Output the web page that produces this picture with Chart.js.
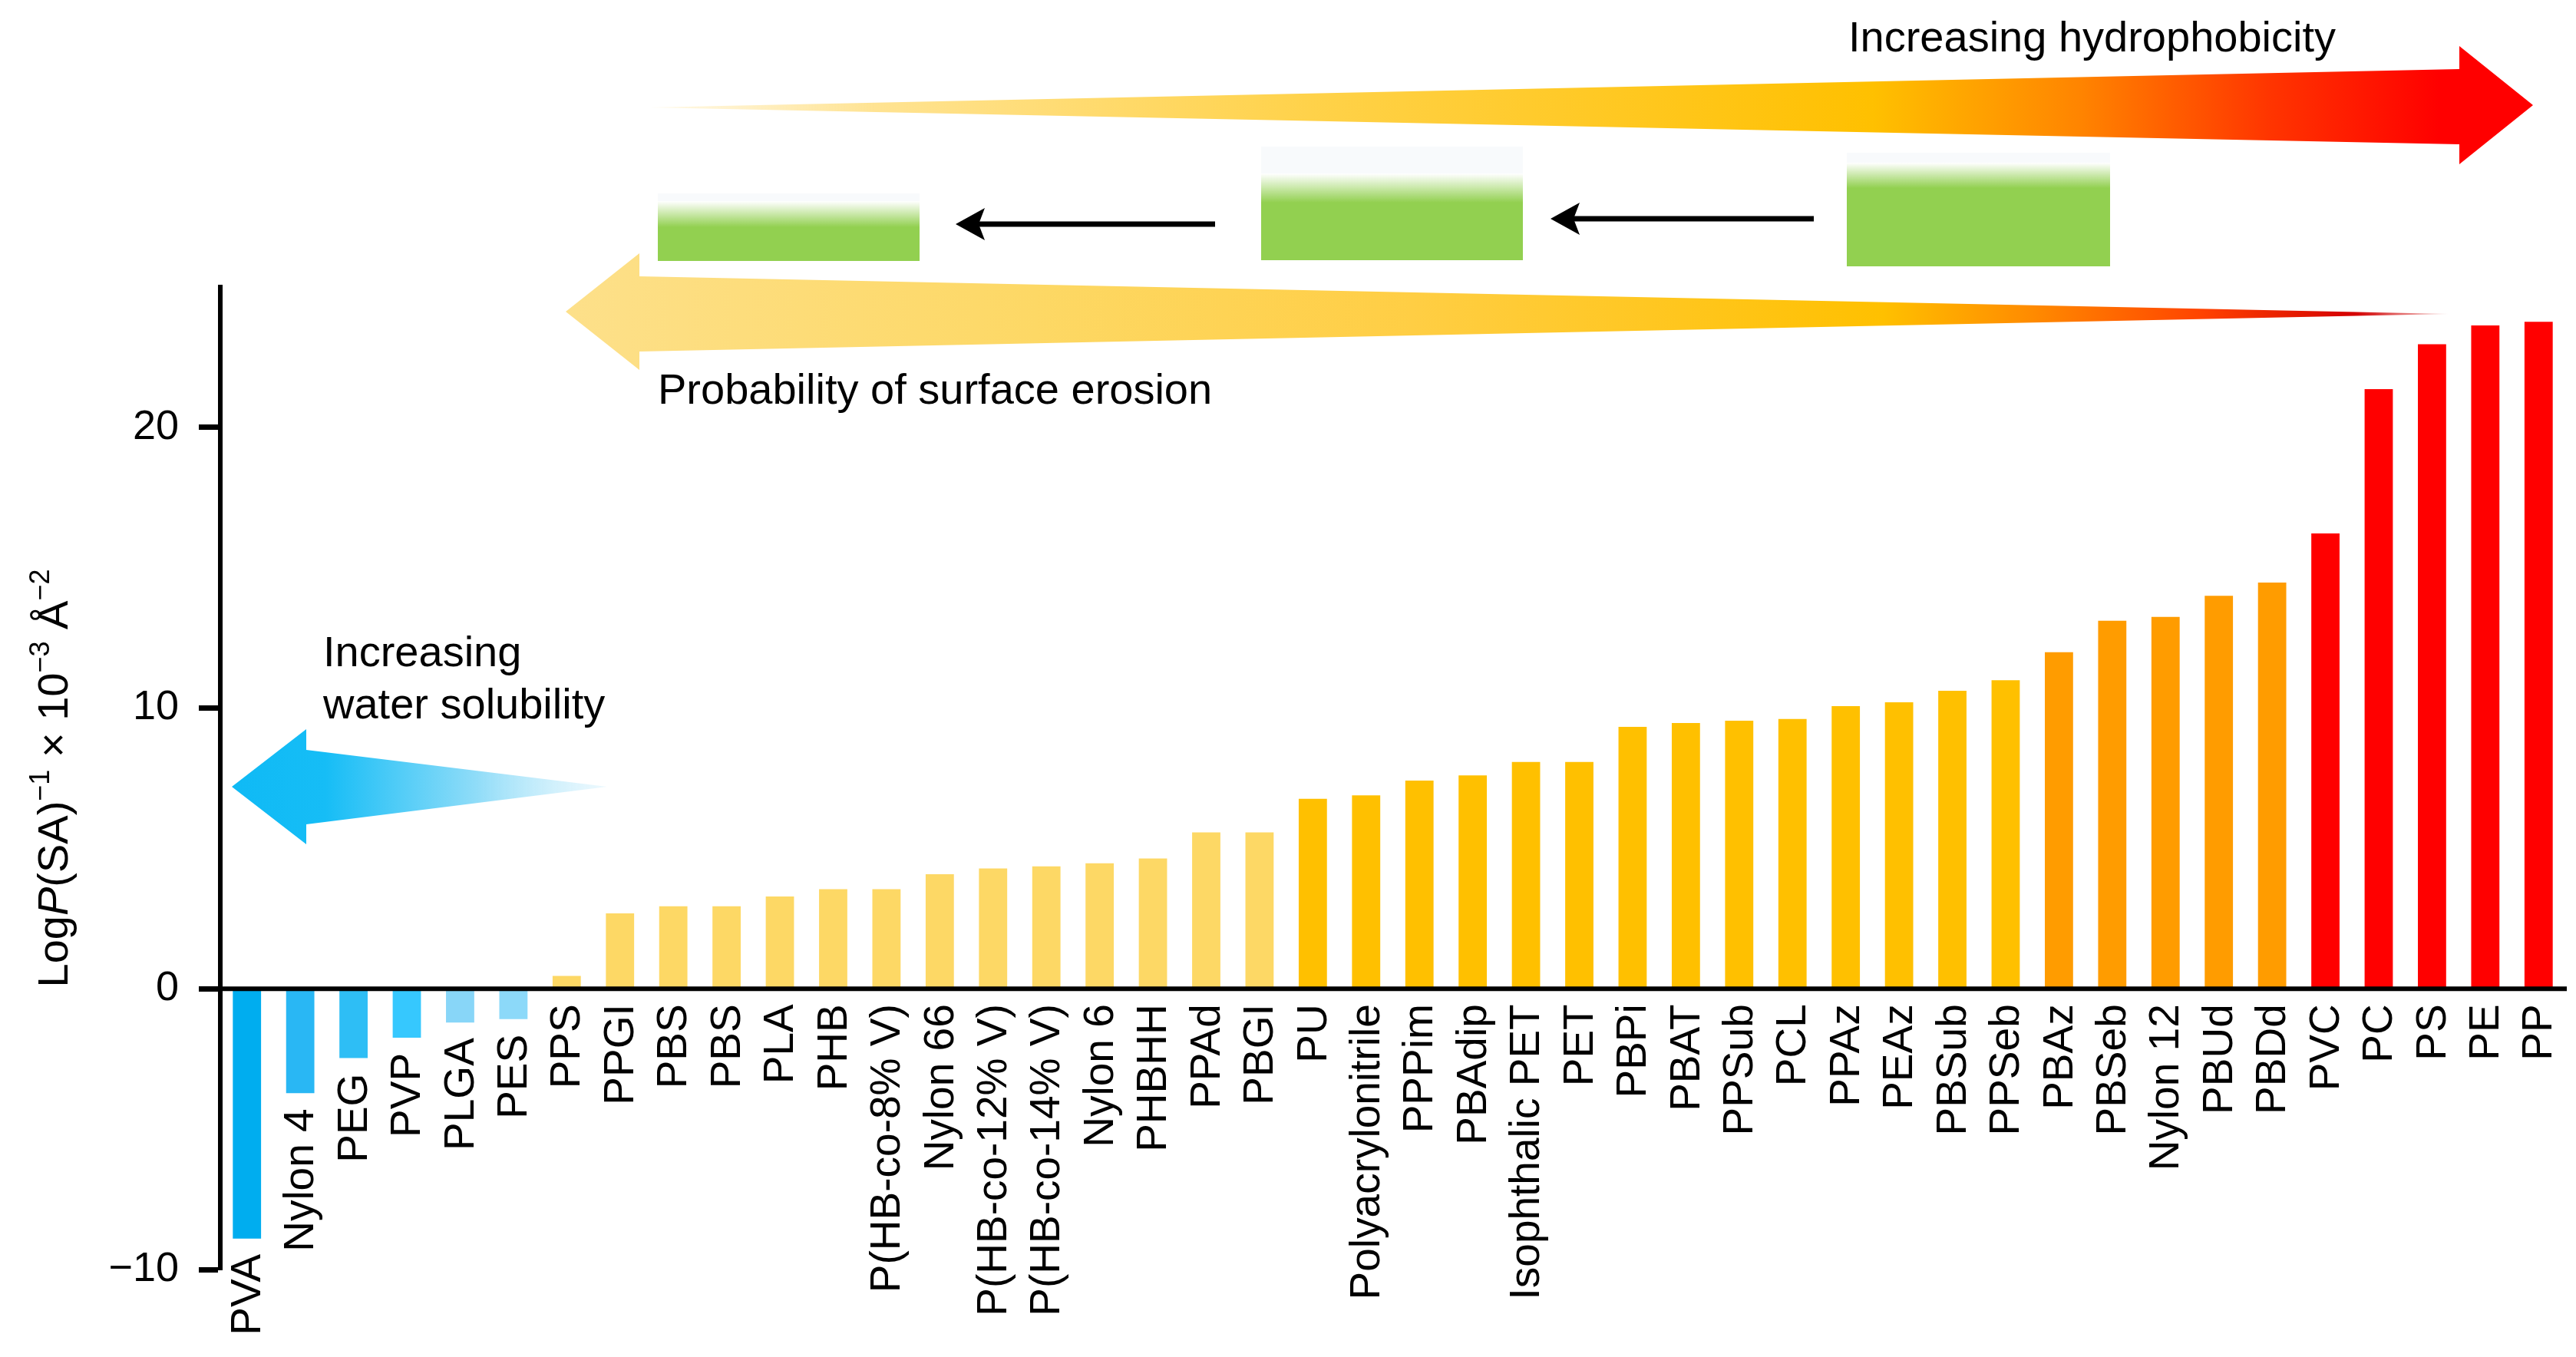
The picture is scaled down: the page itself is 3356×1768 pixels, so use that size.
<!DOCTYPE html>
<html>
<head>
<meta charset="utf-8">
<script src="https://cdn.jsdelivr.net/npm/chart.js@4.4.1/dist/chart.umd.min.js"></script>
<style>
  html, body { margin: 0; padding: 0; background: #fff; }
  #wrap { width: 3356px; height: 1768px; }
</style>
</head>
<body>
<div id="wrap"><canvas id="chart" width="3356" height="1768"></canvas></div>
<script>
// polymers, ordered as in the figure
const polymers = [
    "PVA", "Nylon 4", "PEG", "PVP", "PLGA", "PES", "PPS", "PPGI", "PBS", "PBS",
    "PLA", "PHB", "P(HB-co-8% V)", "Nylon 66", "P(HB-co-12% V)", "P(HB-co-14% V)",
    "Nylon 6", "PHBHH", "PPAd", "PBGI", "PU", "Polyacrylonitrile", "PPPim", "PBAdip",
    "Isophthalic PET", "PET", "PBPi", "PBAT", "PPSub", "PCL", "PPAz", "PEAz", "PBSub",
    "PPSeb", "PBAz", "PBSeb", "Nylon 12", "PBUd", "PBDd", "PVC", "PC", "PS", "PE", "PP"
];

// Log P(SA)^-1 x 10^-3 A^-2
const logPSA = [
    -8.9, -3.72, -2.47, -1.74, -1.2, -1.08, 0.46, 2.69, 2.94, 2.94,
    3.29, 3.55, 3.55, 4.08, 4.29, 4.36,
    4.47, 4.64, 5.57, 5.57, 6.77, 6.89, 7.42, 7.6,
    8.08, 8.08, 9.33, 9.47, 9.55, 9.61, 10.07, 10.21, 10.62,
    10.99, 11.99, 13.11, 13.25, 14.0, 14.47, 16.22, 21.36, 22.96, 23.63, 23.76
];

const yTicks = [-10, 0, 10, 20];

const FONT = "'Liberation Sans', Arial, Helvetica, sans-serif";
const BLUES = ["#00adef", "#29b7f4", "#2ebef5", "#36c8fe", "#88d6f8", "#8cd9f9"];

function barColour(i) {
    if (i < 6) return BLUES[i];
    if (i < 20) return "#fdd865";   // light yellow
    if (i < 34) return "#ffc000";   // gold
    if (i < 39) return "#ff9c00";   // orange
    return "#ff0000";               // red
}

function poly(ctx, pts) {
    ctx.beginPath();
    ctx.moveTo(pts[0][0], pts[0][1]);
    for (let k = 1; k < pts.length; k++) ctx.lineTo(pts[k][0], pts[k][1]);
    ctx.closePath();
}

function greenBox(ctx, x0, x1, paleTop, fadeTop, solidTop, bottom) {
    ctx.fillStyle = "rgba(240,244,248,0.45)";
    ctx.fillRect(x0, paleTop, x1 - x0, fadeTop - paleTop);
    const g = ctx.createLinearGradient(0, fadeTop, 0, solidTop);
    g.addColorStop(0, "rgba(146,208,80,0)");
    g.addColorStop(1, "rgba(146,208,80,1)");
    ctx.fillStyle = g;
    ctx.fillRect(x0, fadeTop, x1 - x0, solidTop - fadeTop);
    ctx.fillStyle = "#92d050";
    ctx.fillRect(x0, solidTop, x1 - x0, bottom - solidTop);
}

function blackArrow(ctx, tipX, tailX, y) {
    ctx.strokeStyle = "#000";
    ctx.lineWidth = 7;
    ctx.beginPath();
    ctx.moveTo(tipX + 20, y);
    ctx.lineTo(tailX, y);
    ctx.stroke();
    ctx.fillStyle = "#000";
    poly(ctx, [[tipX, y], [tipX + 38, y - 21], [tipX + 30, y], [tipX + 38, y + 21]]);
    ctx.fill();
}

// decorations: gradient arrows, green slabs, notes
const annotations = {
    id: "annotations",
    beforeDatasetsDraw(chart) {
        const ctx = chart.ctx;
        ctx.save();

        // top arrow: increasing hydrophobicity
        let g = ctx.createLinearGradient(846, 0, 3300, 0);
        g.addColorStop(0, "rgba(255,225,140,0.15)");
        g.addColorStop(0.12, "#ffe392");
        g.addColorStop(0.35, "#ffd24a");
        g.addColorStop(0.65, "#ffc000");
        g.addColorStop(0.76, "#ff8400");
        g.addColorStop(0.86, "#ff3500");
        g.addColorStop(0.95, "#ff0000");
        g.addColorStop(1, "#ff0000");
        ctx.fillStyle = g;
        poly(ctx, [[846, 140], [3204, 90], [3204, 60], [3300, 137], [3204, 214], [3204, 188]]);
        ctx.fill();

        // bottom arrow: probability of surface erosion
        g = ctx.createLinearGradient(737, 0, 3190, 0);
        g.addColorStop(0, "#fde08a");
        g.addColorStop(0.25, "#fdd865");
        g.addColorStop(0.45, "#ffce44");
        g.addColorStop(0.7, "#ffc000");
        g.addColorStop(0.78, "#ff8a00");
        g.addColorStop(0.87, "#ff4200");
        g.addColorStop(0.95, "#d40000");
        g.addColorStop(1, "rgba(200,0,0,0.15)");
        ctx.fillStyle = g;
        poly(ctx, [[737, 406], [833, 330], [833, 360], [3190, 409], [833, 458], [833, 482]]);
        ctx.fill();

        // blue arrow: increasing water solubility
        g = ctx.createLinearGradient(302, 0, 791, 0);
        g.addColorStop(0, "#0fbaf5");
        g.addColorStop(0.25, "#16bdf6");
        g.addColorStop(0.65, "#8fdcf8");
        g.addColorStop(1, "rgba(210,240,252,0.4)");
        ctx.fillStyle = g;
        poly(ctx, [[302, 1025], [399, 950], [399, 977], [791, 1025], [399, 1074], [399, 1100]]);
        ctx.fill();

        // erosion slabs
        greenBox(ctx, 857, 1198, 252, 262, 296, 340);
        greenBox(ctx, 1643, 1984, 191, 226, 264, 339);
        greenBox(ctx, 2406, 2749, 199, 212, 245, 347);
        blackArrow(ctx, 1245, 1583, 292);
        blackArrow(ctx, 2020, 2363, 285);

        // notes
        ctx.fillStyle = "#000";
        ctx.font = "56px " + FONT;
        ctx.textAlign = "left";
        ctx.textBaseline = "alphabetic";
        ctx.fillText("Increasing hydrophobicity", 2408, 67);
        ctx.fillText("Probability of surface erosion", 857, 526);
        ctx.fillText("Increasing", 421, 868);
        ctx.fillText("water solubility", 421, 936);
        ctx.restore();
    },
    afterDraw(chart) {
        const ctx = chart.ctx;
        const xs = chart.scales.x, ys = chart.scales.y;
        ctx.save();

        // zero line
        const y0 = ys.getPixelForValue(0);
        ctx.strokeStyle = "#000";
        ctx.lineWidth = 6;
        ctx.beginPath();
        ctx.moveTo(259, y0);
        ctx.lineTo(chart.chartArea.right + 2, y0);
        ctx.stroke();

        // category labels hang below the bar end or the zero line
        ctx.fillStyle = "#000";
        ctx.font = "55px " + FONT;
        ctx.textAlign = "right";
        ctx.textBaseline = "middle";
        polymers.forEach((name, i) => {
            const x = xs.getPixelForValue(i);
            const y = ys.getPixelForValue(Math.min(0, logPSA[i])) + 20;
            ctx.save();
            ctx.translate(x, y);
            ctx.rotate(-Math.PI / 2);
            ctx.fillText(name, 0, 2);
            ctx.restore();
        });

        // y axis title with italic P and superscripts
        const parts = [
            { t: "Log", f: "56px " + FONT, dy: 0 },
            { t: "P", f: "italic 56px " + FONT, dy: 0 },
            { t: "(SA)", f: "56px " + FONT, dy: 0 },
            { t: "\u22121", f: "36px " + FONT, dy: -24 },
            { t: " \u00d7 10", f: "56px " + FONT, dy: 0 },
            { t: "\u22123", f: "36px " + FONT, dy: -24 },
            { t: " \u00c5", f: "56px " + FONT, dy: 0 },
            { t: "\u22122", f: "36px " + FONT, dy: -24 }
        ];
        let total = 0;
        parts.forEach(p => { ctx.font = p.f; p.w = ctx.measureText(p.t).width; total += p.w; });
        const cy = (chart.chartArea.top + chart.chartArea.bottom) / 2;
        ctx.translate(88, cy);
        ctx.rotate(-Math.PI / 2);
        ctx.textAlign = "left";
        ctx.textBaseline = "alphabetic";
        let px = -total / 2;
        parts.forEach(p => {
            ctx.font = p.f;
            ctx.fillText(p.t, px, p.dy);
            px += p.w;
        });
        ctx.restore();
    }
};

new Chart(document.getElementById("chart").getContext("2d"), {
    type: "bar",
    data: {
        labels: polymers,
        datasets: [{
            data: logPSA,
            backgroundColor: logPSA.map((v, i) => barColour(i)),
            borderWidth: 0,
            barPercentage: 0.53,
            categoryPercentage: 1
        }]
    },
    options: {
        responsive: false,
        devicePixelRatio: 1,
        animation: false,
        layout: { padding: { top: 374, bottom: 114, left: 0, right: 14 } },
        plugins: {
            legend: { display: false },
            tooltip: { enabled: false }
        },
        scales: {
            x: { display: false, offset: true },
            y: {
                min: -10,
                max: 25,
                afterFit: scale => { scale.width = 287; },
                afterBuildTicks: scale => { scale.ticks = yTicks.map(v => ({ value: v })); },
                border: { display: true, color: "#000", width: 6 },
                grid: {
                    drawOnChartArea: false,
                    drawTicks: true,
                    tickLength: 28,
                    tickWidth: 7,
                    tickColor: "#000"
                },
                ticks: {
                    color: "#000",
                    padding: 26,
                    font: { size: 54, family: FONT },
                    callback: v => String(v).replace("-", "\u2212")
                }
            }
        }
    },
    plugins: [annotations]
});
</script>
</body>
</html>
